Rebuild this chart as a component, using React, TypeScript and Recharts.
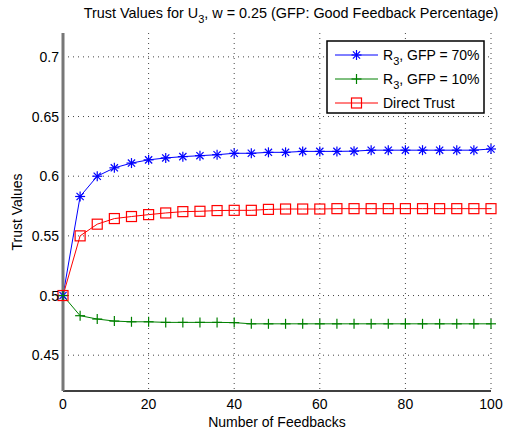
import { LineChart, Line, XAxis, YAxis, CartesianGrid } from 'recharts';

const feedbacks = [0, 4, 8, 12, 16, 20, 24, 28, 32, 36, 40, 44, 48, 52, 56, 60, 64, 68, 72, 76, 80, 84, 88, 92, 96, 100];
const gfp70 = [0.5, 0.583, 0.6, 0.607, 0.611, 0.6137, 0.6153, 0.6164, 0.6172, 0.618, 0.6192, 0.6192, 0.62, 0.62, 0.6208, 0.6208, 0.6208, 0.621, 0.6218, 0.6218, 0.6218, 0.6218, 0.6218, 0.6218, 0.6218, 0.6228];
const gfp10 = [0.5, 0.4831, 0.4803, 0.4786, 0.478, 0.478, 0.4775, 0.4775, 0.4775, 0.4775, 0.4773, 0.4763, 0.4763, 0.4763, 0.4763, 0.4763, 0.4763, 0.4763, 0.4763, 0.4763, 0.4763, 0.4763, 0.4763, 0.4763, 0.4763, 0.4763];
const directTrust = [0.5, 0.55, 0.5598, 0.5645, 0.5662, 0.5678, 0.5692, 0.5703, 0.5706, 0.5712, 0.5714, 0.5714, 0.5722, 0.5725, 0.5725, 0.5725, 0.5728, 0.5728, 0.5728, 0.5728, 0.5728, 0.5728, 0.5728, 0.5728, 0.5728, 0.5728];

const xTicks = [0, 20, 40, 60, 80, 100];
const yTicks = [0.45, 0.5, 0.55, 0.6, 0.65, 0.7];

const data = feedbacks.map((n, i) => ({
  n,
  gfp70: gfp70[i],
  gfp10: gfp10[i],
  direct: directTrust[i],
}));

const FONT = 'Liberation Sans, Arial, Helvetica, sans-serif';
const BLUE = '#0000ff';
const GREEN = '#008000';
const RED = '#ff0000';

function Star({ cx, cy }: { cx?: number; cy?: number }) {
  if (cx == null || cy == null) return null;
  const r = 5;
  const d = r * 0.72;
  return (
    <g stroke={BLUE} strokeWidth={1.2}>
      <line x1={cx - r} y1={cy} x2={cx + r} y2={cy} />
      <line x1={cx} y1={cy - r} x2={cx} y2={cy + r} />
      <line x1={cx - d} y1={cy - d} x2={cx + d} y2={cy + d} />
      <line x1={cx - d} y1={cy + d} x2={cx + d} y2={cy - d} />
    </g>
  );
}

function Plus({ cx, cy }: { cx?: number; cy?: number }) {
  if (cx == null || cy == null) return null;
  const r = 5;
  return (
    <g stroke={GREEN} strokeWidth={1.2}>
      <line x1={cx - r} y1={cy} x2={cx + r} y2={cy} />
      <line x1={cx} y1={cy - r} x2={cx} y2={cy + r} />
    </g>
  );
}

function Square({ cx, cy }: { cx?: number; cy?: number }) {
  if (cx == null || cy == null) return null;
  const s = 5;
  return <rect x={cx - s} y={cy - s} width={s * 2} height={s * 2} fill="none" stroke={RED} strokeWidth={1.2} />;
}

const legendRows = [
  { color: BLUE, marker: Star, sub: true, text: ', GFP = 70%' },
  { color: GREEN, marker: Plus, sub: true, text: ', GFP = 10%' },
  { color: RED, marker: Square, sub: false, text: 'Direct Trust' },
];

export default function App() {
  return (
    <div style={{ position: 'absolute', left: 0, top: 0, width: 505, height: 434, background: '#fff', fontFamily: FONT }}>
      <LineChart
        width={505}
        height={434}
        data={data}
        margin={{ top: 33, right: 14, bottom: 0, left: 13 }}
      >
        <CartesianGrid
          stroke="#444"
          strokeDasharray="1 4"
          horizontalValues={yTicks}
          verticalValues={xTicks.slice(1)}
        />
        <XAxis
          dataKey="n"
          type="number"
          domain={[0, 100]}
          ticks={xTicks}
          height={43}
          tickLine={false}
          axisLine={{ stroke: '#000', strokeWidth: 1.5 }}
          tick={{ fill: '#000', fontSize: 14, fontFamily: FONT }}
          label={{ value: 'Number of Feedbacks', position: 'insideBottom', offset: 7, fill: '#000', fontSize: 14, fontFamily: FONT }}
        />
        <YAxis
          type="number"
          domain={[0.42, 0.72]}
          ticks={yTicks}
          width={50}
          tickSize={3}
          tickMargin={1}
          tickLine={false}
          axisLine={{ stroke: '#777', strokeWidth: 3 }}
          tick={{ fill: '#000', fontSize: 14, fontFamily: FONT }}
          label={{ value: 'Trust Values', angle: -90, position: 'insideLeft', offset: 4, fill: '#000', fontSize: 14, fontFamily: FONT, style: { textAnchor: 'middle' } }}
        />
        <Line dataKey="gfp70" stroke={BLUE} strokeWidth={1} dot={<Star />} isAnimationActive={false} />
        <Line dataKey="gfp10" stroke={GREEN} strokeWidth={1} dot={<Plus />} isAnimationActive={false} />
        <Line dataKey="direct" stroke={RED} strokeWidth={1} dot={<Square />} isAnimationActive={false} />
      </LineChart>
      <svg width={505} height={434} style={{ position: 'absolute', left: 0, top: 0, pointerEvents: 'none' }}>
        <text x={291} y={18} textAnchor="middle" fontSize={14.4} fontFamily={FONT} fill="#000">
          Trust Values for U<tspan fontSize={11} dy={5}>3</tspan><tspan dy={-5}>, w = 0.25 (GFP: Good Feedback Percentage)</tspan>
        </text>
        <rect x={327} y={41} width={157} height={72} fill="#fff" stroke="#000" strokeWidth={1.5} />
        {legendRows.map((row, i) => {
          const y = 55 + i * 24;
          const M = row.marker;
          return (
            <g key={i}>
              <line x1={335} y1={y} x2={378} y2={y} stroke={row.color} strokeWidth={1} />
              <M cx={356.5} cy={y} />
              <text x={383} y={y + 5} fontSize={14} fontFamily={FONT} fill="#000">
                {row.sub ? (
                  <>
                    R<tspan fontSize={11} dy={5}>3</tspan><tspan dy={-5}>{row.text}</tspan>
                  </>
                ) : (
                  row.text
                )}
              </text>
            </g>
          );
        })}
      </svg>
    </div>
  );
}
